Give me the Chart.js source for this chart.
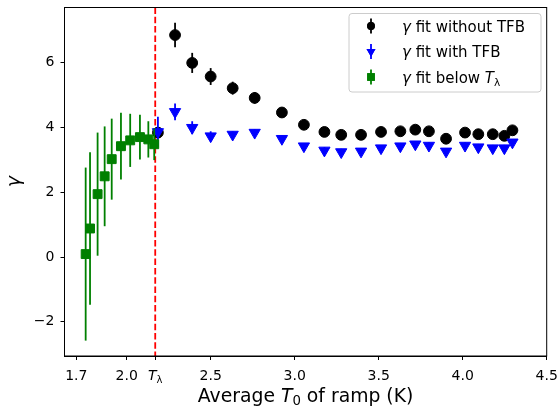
<!DOCTYPE html>
<html>
<head>
<meta charset="utf-8">
<script src="https://cdn.jsdelivr.net/npm/chart.js@4.4.1/dist/chart.umd.min.js"></script>
<style>
  body { margin: 0; background: #fff; }
  #wrap { width: 560px; height: 412px; }
</style>
</head>
<body>
<div id="wrap"><canvas id="chart" width="560" height="412"></canvas></div>
<script>
// average T0 of each ramp (K), shared by the two fits above T_lambda
const tempAbove = [2.186, 2.288, 2.390, 2.500, 2.631, 2.762, 2.924, 3.055, 3.177, 3.277, 3.395,
                   3.514, 3.629, 3.718, 3.799, 3.901, 4.014, 4.093, 4.179, 4.248, 4.296];
const gammaNoTfb = [3.84, 6.85, 5.99, 5.57, 5.21, 4.91, 4.46, 4.08, 3.86, 3.77, 3.77,
                    3.86, 3.88, 3.93, 3.88, 3.65, 3.84, 3.79, 3.79, 3.74, 3.91];
const errNoTfb   = [0.15, 0.38, 0.31, 0.26, 0.20, 0.18, 0.12, 0.10, 0.10, 0.10, 0.10,
                    0.10, 0.10, 0.10, 0.10, 0.10, 0.10, 0.10, 0.10, 0.10, 0.10];
const gammaTfb   = [3.86, 4.48, 3.99, 3.73, 3.78, 3.84, 3.65, 3.42, 3.29, 3.24, 3.26,
                    3.36, 3.42, 3.48, 3.44, 3.26, 3.44, 3.39, 3.36, 3.36, 3.54];
const errTfb     = [0.47, 0.26, 0.20, 0.15, 0.10, 0.10, 0.10, 0.10, 0.10, 0.10, 0.10,
                    0.10, 0.10, 0.10, 0.10, 0.10, 0.10, 0.10, 0.10, 0.10, 0.10];
// fits below T_lambda
const tempBelow  = [1.756, 1.782, 1.827, 1.869, 1.911, 1.966, 2.021, 2.079, 2.129, 2.164];
const gammaBelow = [0.09, 0.88, 1.94, 2.49, 3.02, 3.42, 3.60, 3.70, 3.63, 3.48];
const errBelow   = [2.67, 2.35, 1.90, 1.54, 1.25, 1.03, 0.82, 0.69, 0.56, 0.49];

const tLambda = 2.17;
const xTickVals = [1.7, 2.0, tLambda, 2.5, 3.0, 3.5, 4.0, 4.5];
const xTickLabels = ['1.7', '2.0', '', '2.5', '3.0', '3.5', '4.0', '4.5'];
const yTickVals = [-2, 0, 2, 4, 6];

const FONT = "'DejaVu Sans', sans-serif";

function pts(xs, ys, errs) {
    return xs.map(function (x, i) { return { x: x, y: ys[i], err: errs[i] }; });
}

// draws a run of text pieces (for italic T and subscripts)
function drawRich(ctx, parts, x, y) {
    var total = 0;
    parts.forEach(function (p) { ctx.font = p.font; total += ctx.measureText(p.text).width; });
    var cx = x - total / 2;
    parts.forEach(function (p) {
        ctx.font = p.font;
        ctx.fillText(p.text, cx, y + (p.dy || 0));
        cx += ctx.measureText(p.text).width;
    });
}

const errorBars = {
    id: 'errorBars',
    beforeDatasetDraw(chart, args) {
        const ds = chart.data.datasets[args.index];
        const ctx = chart.ctx, xs = chart.scales.x, ys = chart.scales.y;
        ctx.save();
        ctx.strokeStyle = ds.barColor;
        ctx.lineWidth = 1.8;
        ds.data.forEach(function (p) {
            const px = xs.getPixelForValue(p.x);
            ctx.beginPath();
            ctx.moveTo(px, ys.getPixelForValue(p.y - p.err));
            ctx.lineTo(px, ys.getPixelForValue(p.y + p.err));
            ctx.stroke();
        });
        ctx.restore();
    }
};

const decorations = {
    id: 'decorations',
    beforeDatasetsDraw(chart) {
        const ctx = chart.ctx, a = chart.chartArea;
        const px = chart.scales.x.getPixelForValue(tLambda);
        ctx.save();
        ctx.strokeStyle = '#ff0000';
        ctx.lineWidth = 1.8;
        ctx.setLineDash([6.5, 2.8]);
        ctx.beginPath();
        ctx.moveTo(px, a.top);
        ctx.lineTo(px, a.bottom);
        ctx.stroke();
        ctx.restore();
    },
    afterDatasetsDraw(chart) {
        const ctx = chart.ctx, a = chart.chartArea;
        ctx.save();
        ctx.strokeStyle = '#000';
        ctx.lineWidth = 1;
        ctx.strokeRect(a.left, a.top, a.right - a.left, a.bottom - a.top);
        ctx.restore();
    },
    afterDraw(chart) {
        const ctx = chart.ctx, a = chart.chartArea;
        ctx.save();
        ctx.fillStyle = '#000';
        ctx.textBaseline = 'alphabetic';

        // T_lambda tick label
        drawRich(ctx, [
            { text: 'T', font: 'italic 14px ' + FONT },
            { text: 'λ', font: '10px ' + FONT, dy: 3 }
        ], chart.scales.x.getPixelForValue(tLambda), 380);

        // x axis title
        drawRich(ctx, [
            { text: 'Average ', font: '18.8px ' + FONT },
            { text: 'T', font: 'italic 18.8px ' + FONT },
            { text: '0', font: '13.3px ' + FONT, dy: 3 },
            { text: ' of ramp (K)', font: '18.8px ' + FONT }
        ], (a.left + a.right) / 2, 402);

        // y axis title
        ctx.save();
        ctx.translate(20, (a.top + a.bottom) / 2);
        ctx.rotate(-Math.PI / 2);
        ctx.textAlign = 'center';
        ctx.font = 'italic 18.8px ' + FONT;
        ctx.fillText('γ', 0, 0);
        ctx.restore();

        // legend
        const lx = 349, ly = 13.5, lw = 192, lh = 78.5;
        ctx.beginPath();
        ctx.roundRect(lx, ly, lw, lh, 3);
        ctx.fillStyle = 'rgba(255,255,255,0.8)';
        ctx.fill();
        ctx.strokeStyle = '#cccccc';
        ctx.lineWidth = 1;
        ctx.stroke();

        const lf = 15;
        const rows = [
            { y: 26, color: '#000000', style: 'circle', r: 3.9, label: [{ text: 'γ', font: 'italic ' + lf + 'px ' + FONT }, { text: ' fit without TFB', font: lf + 'px ' + FONT }] },
            { y: 51.5, color: '#0000ff', style: 'triangle', r: 5.2, label: [{ text: 'γ', font: 'italic ' + lf + 'px ' + FONT }, { text: ' fit with TFB', font: lf + 'px ' + FONT }] },
            { y: 77, color: '#008000', style: 'rect', r: 5.4, label: [{ text: 'γ', font: 'italic ' + lf + 'px ' + FONT }, { text: ' fit below ', font: lf + 'px ' + FONT }, { text: 'T', font: 'italic ' + lf + 'px ' + FONT }, { text: 'λ', font: '10.5px ' + FONT, dy: 3 }] }
        ];
        rows.forEach(function (row) {
            ctx.strokeStyle = row.color;
            ctx.fillStyle = row.color;
            ctx.lineWidth = 1.8;
            ctx.beginPath();
            ctx.moveTo(371, row.y - 7.5);
            ctx.lineTo(371, row.y + 7.5);
            ctx.stroke();
            Chart.helpers.drawPoint(ctx, { pointStyle: row.style, radius: row.r, rotation: row.style === 'triangle' ? 180 : 0, borderWidth: 0 }, 371, row.y);
            ctx.fill();
            // left aligned label
            ctx.fillStyle = '#000';
            var tx = 402;
            row.label.forEach(function (p) {
                ctx.font = p.font;
                ctx.fillText(p.text, tx, row.y + 5.5 + (p.dy || 0));
                tx += ctx.measureText(p.text).width;
            });
        });
        ctx.restore();
    }
};

const tickFont = { family: FONT, size: 14 };

new Chart(document.getElementById('chart'), {
    type: 'scatter',
    data: {
        datasets: [
            {
                label: 'γ fit without TFB',
                data: pts(tempAbove, gammaNoTfb, errNoTfb),
                barColor: '#000000',
                backgroundColor: '#000000',
                borderColor: '#000000',
                borderWidth: 1,
                pointStyle: 'circle',
                pointRadius: 5.4,
                order: 3
            },
            {
                label: 'γ fit with TFB',
                data: pts(tempAbove, gammaTfb, errTfb),
                barColor: '#0000ff',
                backgroundColor: '#0000ff',
                borderColor: '#0000ff',
                borderWidth: 1,
                pointStyle: 'triangle',
                rotation: 180,
                pointRadius: 6.5,
                order: 2
            },
            {
                label: 'γ fit below Tλ',
                data: pts(tempBelow, gammaBelow, errBelow),
                barColor: '#008000',
                backgroundColor: '#008000',
                borderColor: '#008000',
                borderWidth: 1,
                pointStyle: 'rect',
                pointRadius: 6.3,
                order: 1
            }
        ]
    },
    options: {
        responsive: false,
        animation: false,
        devicePixelRatio: 1,
        layout: { padding: { top: 6.5, right: 13.3, left: 0, bottom: 0 } },
        plugins: { legend: { display: false }, tooltip: { enabled: false } },
        scales: {
            x: {
                type: 'linear',
                min: 1.63,
                max: 4.5,
                grid: { display: true, drawOnChartArea: false, drawTicks: true, tickLength: 4, color: '#000' },
                border: { display: true, color: '#000' },
                ticks: {
                    font: tickFont, color: '#000', padding: 8, maxRotation: 0, autoSkip: false,
                    callback: function (v) {
                        var i = xTickVals.indexOf(v);
                        return i >= 0 ? xTickLabels[i] : '';
                    }
                },
                afterBuildTicks: function (s) { s.ticks = xTickVals.map(function (v) { return { value: v }; }); },
                afterFit: function (s) { s.height = 56; s.paddingLeft = 0; s.paddingRight = 0; }
            },
            y: {
                min: -3.055,
                max: 7.70,
                grid: { display: true, drawOnChartArea: false, drawTicks: true, tickLength: 4, color: '#000' },
                border: { display: true, color: '#000' },
                ticks: {
                    font: tickFont, color: '#000', padding: 6,
                    callback: function (v) { return v < 0 ? '\u2212' + Math.abs(v) : String(v); }
                },
                afterBuildTicks: function (s) { s.ticks = yTickVals.map(function (v) { return { value: v }; }); },
                afterFit: function (s) { s.width = 64.5; s.paddingTop = 0; s.paddingBottom = 0; }
            }
        }
    },
    plugins: [errorBars, decorations]
});
</script>
</body>
</html>
